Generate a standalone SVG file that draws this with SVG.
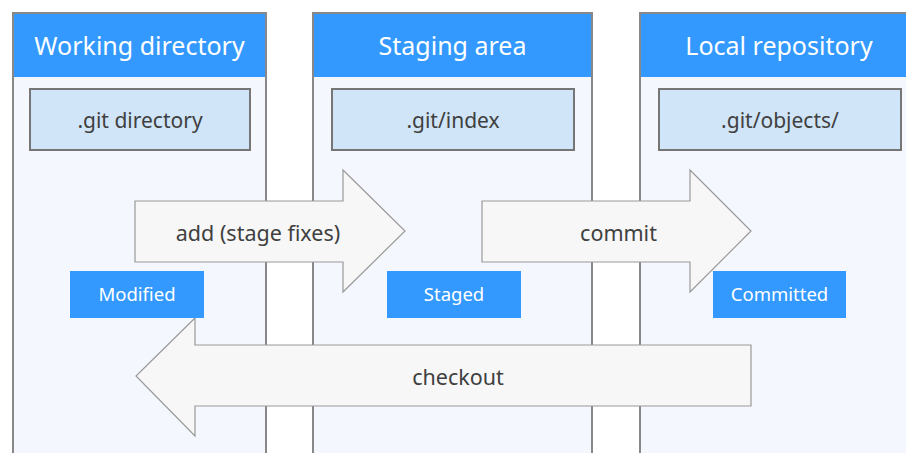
<svg xmlns="http://www.w3.org/2000/svg" width="906" height="453" viewBox="0 0 906 453">
  <style>
    .col { fill: #F4F8FE; stroke: #888888; stroke-width: 2; }
    .head { fill: #3399FF; }
    .head-text { font-family: "Noto Sans", "Open Sans", sans-serif; font-size: 25px; fill: #FFFFFF; text-anchor: middle; }
    .inner { fill: #D0E5F8; stroke: #767676; stroke-width: 2; }
    .inner-text { font-family: "Noto Sans", "Open Sans", sans-serif; font-size: 21px; fill: #404040; text-anchor: middle; }
    .state { fill: #3399FF; }
    .state-text { font-family: "Noto Sans", "Open Sans", sans-serif; font-size: 18.5px; fill: #FFFFFF; text-anchor: middle; }
    .arrow { fill: #F7F7F7; stroke: #999999; stroke-width: 1.2; stroke-linejoin: miter; }
    .arrow-text { font-family: "Noto Sans", "Open Sans", sans-serif; font-size: 21.5px; fill: #404040; text-anchor: middle; }
  </style>

  <rect width="906" height="453" fill="#FFFFFF"/>

  <!-- Working directory column -->
  <g id="working-directory">
    <rect class="col" x="13" y="13" width="253" height="460"/>
    <rect class="head" x="14" y="14" width="251" height="63"/>
    <text class="head-text" x="139.5" y="55">Working directory</text>
    <rect class="inner" x="30" y="89" width="220" height="61"/>
    <text class="inner-text" x="140" y="128">.git directory</text>
  </g>

  <!-- Staging area column -->
  <g id="staging-area">
    <rect class="col" x="313" y="13" width="279" height="460"/>
    <rect class="head" x="314" y="14" width="277" height="63"/>
    <text class="head-text" x="452.5" y="55">Staging area</text>
    <rect class="inner" x="332" y="89" width="242" height="61"/>
    <text class="inner-text" x="453" y="128">.git/index</text>
  </g>

  <!-- Local repository column -->
  <g id="local-repository">
    <rect class="col" x="640" y="13" width="280" height="460"/>
    <rect class="head" x="641" y="14" width="278" height="63"/>
    <text class="head-text" x="779" y="55">Local repository</text>
    <rect class="inner" x="659" y="89" width="242" height="61"/>
    <text class="inner-text" x="780" y="128">.git/objects/</text>
  </g>

  <!-- Block arrows between areas -->
  <g id="connectors">
    <g id="add">
      <polygon class="arrow" points="135,201 343,201 343,170 405,231 343,292 343,262 135,262"/>
      <text class="arrow-text" x="258" y="241">add (stage fixes)</text>
    </g>
    <g id="commit">
      <polygon class="arrow" points="482,201 690,201 690,170 751,231 690,292 690,262 482,262"/>
      <text class="arrow-text" x="618.5" y="241">commit</text>
    </g>
    <g id="checkout">
      <polygon class="arrow" points="751,345 195,345 195,318 136,376 195,436 195,406 751,406"/>
      <text class="arrow-text" x="458" y="385">checkout</text>
    </g>
  </g>

  <!-- File states -->
  <g id="modified">
    <rect class="state" x="70" y="271" width="134" height="47"/>
    <text class="state-text" x="137" y="301">Modified</text>
  </g>
  <g id="staged">
    <rect class="state" x="387" y="271" width="134" height="47"/>
    <text class="state-text" x="454" y="301">Staged</text>
  </g>
  <g id="committed">
    <rect class="state" x="713" y="271" width="133" height="47"/>
    <text class="state-text" x="779.5" y="301">Committed</text>
  </g>
</svg>
